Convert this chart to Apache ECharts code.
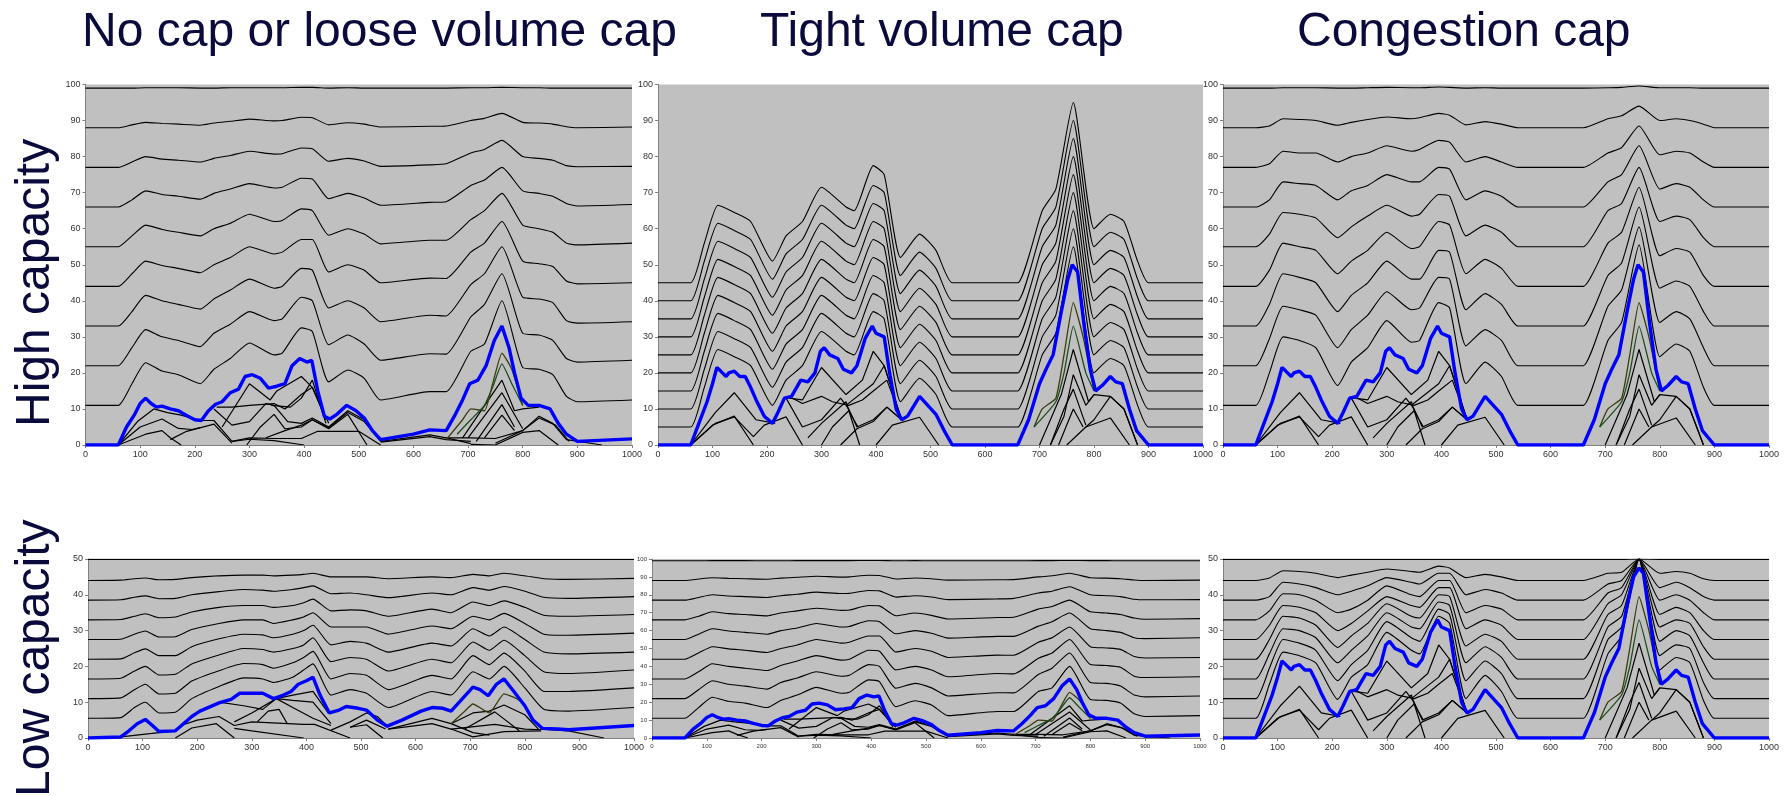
<!DOCTYPE html>
<html><head><meta charset="utf-8">
<script src="https://cdn.jsdelivr.net/npm/echarts@6/dist/echarts.min.js"></script>
<style>html,body{margin:0;padding:0;background:#fff}#c{width:1789px;height:797px}</style></head>
<body><div id="c"></div>
<script>
const titles = ["No cap or loose volume cap","Tight volume cap","Congestion cap"];
const rowLabels = ["High capacity","Low capacity"];
const xTicksMax = 1000;

const knots = [0,60,85,110,140,170,210,235,265,300,345,360,395,415,445,480,510,540,630,660,705,730,762,800,830,855,880,900,1000];
const knotsLow = [0,60,85,105,130,160,190,240,285,320,340,375,395,412,445,480,510,550,630,665,705,735,762,800,835,880,1000];

// Panel 1: no cap, high capacity
const p1Blue = [[0,0],[60,0],[75,5],[90,8.5],[100,11.5],[110,13],[120,11.5],[130,10.5],[140,10.8],[155,10],[170,9.5],[185,8.2],[200,7],[212,6.8],[225,9.5],[238,11.3],[250,12],[265,14.5],[280,15.5],[292,19],[305,19.5],[320,18.5],[335,15.8],[350,16.3],[365,17],[378,22],[392,24],[405,23],[414,23.5],[425,15],[437,8],[447,7.2],[460,8.5],[478,11],[495,9.5],[510,7.5],[525,4],[540,1.5],[600,3],[630,4.2],[660,4],[675,8],[690,12.5],[703,17],[718,18],[733,22],[748,29],[762,33],[775,27],[785,20],[797,13],[810,11],[830,11],[850,10],[865,6],[880,3],[900,1],[1000,1.7]];
const p1Upper = [
[11,11,17,22.8,20.5,19.5,17,21,24,28.3,25,25.5,32.5,31.5,17.5,20.8,18.5,12.5,14.8,14.8,26,28,40,21.5,21,19.5,13.5,12,12.5],
[22,22,27,32,30,29,27.3,31,33.5,37,34.5,35,41,40,27.8,30.5,28,23.5,25.3,25.2,35.5,39,47.5,31,30.5,29,24,23,23.5],
[33,33,37,41.5,40,39,37.7,40.5,43,46,43.5,44,49,48.5,38,40,38,34.2,36,35.8,44.5,47.5,55,41,40.5,39.5,34.5,33.8,34.2],
[44,44,47.5,51,49.8,49,47.8,50,52,55,53,53.5,57,57,48,50,48.5,45,46.3,46.2,53.5,56,62,51,50.3,49.5,45.5,44.7,45],
[55,55,58,61,59.8,59,58,60,61.5,64,62,62.3,65.5,65,58.2,60,58.5,55.8,56.8,56.8,62.5,65,69.8,61,60,59,56,55.5,56],
[66,66,68,70.5,69.5,69,68.2,69.8,71,72.5,71.3,71.5,74,73.8,68.3,69.8,68.5,66.5,67.3,67.5,72,73.5,77,70.5,69.8,69,67,66.3,66.7],
[77,77,78.5,80,79.3,79,78.5,79.5,80.3,81.5,80.7,80.8,82.4,82.2,78.7,79.5,78.8,77.3,77.7,78,81,82,84.5,80,79.5,79,77.5,77.2,77.3],
[88,88,88.8,89.5,89.2,89,88.7,89.3,89.8,90.4,89.9,90,90.9,90.8,88.8,89.4,89,88.2,88.4,88.5,90,90.6,92,89.5,89.3,89,88.3,88,88.2],
[99,99,99,99.1,99.1,99.1,99,99,99.1,99.1,99.1,99.1,99.2,99.2,99,99.1,99,99,99,99,99.1,99.1,99.2,99.1,99.1,99,99,99,99]
];
const p1Olive = [[660,1.5],[690,7],[705,10],[730,9.5],[745,17],[762,25.5],[780,21],[800,11]];
const p1Green = [[680,3],[705,7],[730,11],[745,16],[762,22.5],[780,17],[800,11]];
const p1Low = [
[[60,0],[110,3],[140,4],[155,2],[175,0]],
[[60,0],[100,5],[140,7.2],[170,4.6],[195,4.3],[210,4.8]],
[[60,0],[95,6.5],[125,10],[150,9],[175,8.3],[210,6.8],[235,6.8],[268,1]],
[[155,1.5],[185,3.8],[235,5.8],[268,0.5]],
[[235,10],[268,5.5],[300,6.5],[330,11.5],[345,11],[370,6.5],[395,6],[415,7.5],[445,5],[480,9.5],[510,7],[540,1.2]],
[[240,10.5],[268,10.5],[300,11],[345,11.5],[365,10],[395,14],[415,16],[445,6]],
[[250,5],[300,17],[338,12.5],[350,15],[395,19],[415,16],[440,7]],
[[340,11],[375,10.5],[395,13],[415,18],[440,6]],
[[268,1],[300,2],[345,1.8],[395,1.8],[425,3.8],[500,3.8],[540,0]],
[[268,1],[300,1.6],[345,1.2],[400,0]],
[[295,0],[320,5],[345,8.5],[365,4.5],[395,5],[415,7],[445,4.5],[480,8.5],[515,0]],
[[330,2],[365,4],[395,5.5],[415,7],[445,4.8],[480,9],[510,6.5],[540,1]],
[[540,1],[630,2.8],[660,2],[705,0.4]],
[[540,0.8],[630,2.3],[660,1.5],[705,1]],
[[660,2],[705,2],[750,1.8],[800,4],[830,8],[855,6],[880,1.5],[945,0]],
[[690,2],[762,18],[785,9.5],[800,10],[830,10.5]],
[[700,2],[762,14.5],[800,4.5]],
[[715,1],[762,11.2],[785,5]],
[[730,2],[762,8.3],[785,4]],
[[705,0.2],[750,0],[800,3.5],[830,4],[865,0]],
[[750,0.5],[800,4],[830,7.5],[860,5.5],[885,1]]
];

// Panel 2: tight volume cap, high capacity
const p2Blue = [[0,0],[60,0],[75,6],[90,12],[100,17],[108,21.5],[115,20.5],[125,19],[130,20],[140,20.5],[150,19],[160,19],[170,16],[180,12.5],[195,8],[210,6],[220,9],[232,13],[245,13.5],[262,18],[275,17.5],[288,20],[298,26],[305,27],[315,25],[330,24],[340,21],[355,20],[365,22],[380,29.5],[393,33],[400,31],[415,30],[425,20],[437,10],[447,7],[458,8],[480,13.5],[495,11],[510,8.5],[525,4],[540,0],[660,0],[680,7],[700,17],[712,21],[725,25],[740,37],[752,46],[760,50],[770,48],[782,33],[793,21],[803,15],[815,16.5],[830,19],[840,17.5],[852,17],[865,10],[878,4],[900,0],[1000,0]];
const p2Upper = [
[5,5,16,26.5,24.5,22,11,18,22,31.5,26,25,37,35,12,18.5,14,5,5,5,25,31,55,20,24,22,11,5,5],
[10,10,21,31.5,29.5,27,16,23,27,36.5,31,30,42,40,17,23.5,19,10,10,10,30,36,60,25,29,27,16,10,10],
[15,15,26,36.5,34.5,32,21,28,32,41.5,36,35,47,45,22,28.5,24,15,15,15,35,41,65,30,34,32,21,15,15],
[20,20,31,41.5,39.5,37,26,33,37,46.5,41,40,52,50,27,33.5,29,20,20,20,40,46,70,35,39,37,26,20,20],
[25,25,36,46.5,44.5,42,31,38,42,51.5,46,45,57,55,32,38.5,34,25,25,25,45,51,75,40,44,42,31,25,25],
[30,30,41,51.5,49.5,47,36,43,47,56.5,51,50,62,60,37,43.5,39,30,30,30,50,56,80,45,49,47,36,30,30],
[35,35,46,56.5,54.5,52,41,48,52,61.5,56,55,67,65,42,48.5,44,35,35,35,55,61,85,50,54,52,41,35,35],
[40,40,51,61.5,59.5,57,46,53,57,66.5,61,60,72,70,47,53.5,49,40,40,40,60,66,90,55,59,57,46,40,40],
[45,45,56,66.5,64.5,62,51,58,62,71.5,66,65,77.5,75,52,58.5,54,45,45,45,65,71,95,60,64,62,51,45,45]
];
const p2Olive = [[690,5],[705,10],[730,13],[745,25],[762,39.5],[780,30],[800,15]];
const p2Green = [[690,5],[730,12],[745,20],[762,33],[785,20],[800,15]];
const p2Low = [
[[60,0],[100,5.5],[140,8],[175,0]],
[[60,0],[105,6],[140,7.8],[175,2.3],[195,5.5],[235,7.8],[265,0]],
[[60,0],[105,9],[140,14.5],[180,7],[215,6]],
[[235,13],[265,5],[300,7],[335,13],[350,10],[365,5],[395,7],[420,10.5],[447,7]],
[[240,13.5],[265,11.5],[300,13.5],[320,12],[350,11],[375,12.5],[395,15],[420,18],[447,7]],
[[240,13],[265,12.5],[300,21.5],[345,14],[375,18],[395,26],[415,22],[447,7]],
[[345,11],[395,17],[415,22],[447,7]],
[[275,2],[300,6],[345,12],[370,0]],
[[300,0],[320,5],[350,9.5],[367,5]],
[[335,0],[365,4.5],[395,6.5],[420,10.5],[447,7]],
[[400,0],[430,5.5],[480,7.7],[515,0]],
[[700,0],[740,14],[762,26.5],[790,12],[800,14],[830,13.5],[855,10],[880,0]],
[[720,0],[745,8],[762,19.5],[785,11],[800,14]],
[[720,0],[745,10],[762,15.5],[785,5.5]],
[[735,0],[762,10],[780,5]],
[[750,0],[785,5],[830,7.5],[865,0]],
[[785,5],[800,7],[830,13.5],[855,10],[880,0]]
];

// Panel 3: congestion cap, high capacity
const p3Upper = [
[11,11,20,30,29,27,16.5,23,27,34.5,28.5,29,39.5,38,17,23,19,11,11,11,29,34,55.5,24.5,28,26,16,11,11],
[22,22,29.5,38.5,37.5,36,27,32,36,42.5,37.5,38,46.5,46,27.5,32,29,22,22,22,38.5,43,60.5,34,37,35,27,22,22],
[33,33,39,47.5,46.5,45,37,41.5,45,51,46,46,54,53.5,37.5,42,39,33,33,33,47,50.5,66,43.5,45.5,44,37,33,33],
[44,44,48.5,56,55,54,47.5,51,54,59,54.5,55,62,61,47.5,51.5,49,44,44,44,56,59,71.5,52.5,54.5,53.5,47,44,44],
[55,55,58.5,64.5,64,63,57.5,60.5,63.5,66.5,63.5,64,69.5,69,58,61,59,55,55,55,65,67,77,62,63.5,62.5,57.5,55,55],
[66,66,68,73,72.5,72,68,70.5,72,75,73,73,77,76.5,68,70.5,69,66,66,66,73,75,83,71,72.5,71.5,68,66,66],
[77,77,78,81.5,81,81,78.5,80,81,83,81.5,82,84.5,84,78.5,80,78.5,77,77,77,81,82.5,88.5,80.5,81.5,81,78.5,77,77],
[88,88,88.5,90.5,90.3,90,88.7,89.5,90.3,91,90.5,90.8,92,91.5,88.8,89.7,89,88,88,88,90.5,91.3,94,90,90.5,90,89,88,88],
[99,99,99,99.1,99.1,99.1,99,99,99.1,99.2,99.1,99.1,99.3,99.2,99,99.1,99,99,99,99,99.1,99.2,99.6,99.1,99.1,99.1,99,99,99]
];

// Panel 4: no cap, low capacity
const p4Blue = [[0,0],[60,0.3],[75,2],[90,4],[105,5.2],[118,3.5],[130,1.8],[160,2],[175,4],[190,6],[205,7.5],[240,9.8],[262,10.8],[278,12.5],[300,12.5],[320,12.5],[340,11],[358,12],[372,13],[385,15],[400,16],[412,17],[425,12],[442,7],[460,7.8],[473,8.8],[495,8.3],[510,7.8],[530,5],[548,3.3],[575,5],[610,7.5],[630,8.5],[650,8.3],[665,7.5],[680,10],[705,14.2],[718,13.5],[733,11.8],[748,15],[762,16.5],[780,13],[800,9],[815,5],[832,2.7],[860,2.5],[880,2.3],[1000,3.5]];
const p4Upper = [
[5.5,5.7,8.5,10,7,7.2,11,14.4,16.8,16.5,15.5,17,19,20.7,12,13.5,12.5,8.5,13,12,18.5,16.5,20,14,8,7.5,8.5],
[11,11.2,13.5,15,12.3,12.5,15.9,18.8,20.8,20.5,19.5,21,22.5,24.2,16.5,18,17.5,13.5,17.5,16.5,23,20.5,23.7,18.7,13,13,14],
[16.5,16.7,18.7,20,17.6,17.8,20.7,23.2,25,24.7,24,25,26,28,21.3,22.5,22,18.7,22,21,26.8,24.5,27.3,23,18.5,18,19],
[22,22.1,23.8,24.9,23,23,25.5,27.7,29,28.8,28,29,30,31.5,26,27,26.5,24,26.5,25.7,30.5,28.5,31,27.5,24,23.5,24],
[27.5,27.6,29,29.9,28.2,28.3,30.3,32,33,33,32,33,33.8,35,31,31,31,29,31.3,30.5,34,33,34.8,32,29,28.7,29.3],
[33,33.1,34,34.7,33.6,33.8,35.2,36.5,37,37,36.5,37,37.8,38.8,35.5,35.8,35.5,34,36,35,38,37,38.3,36.5,34.3,34,34.5],
[38.5,38.6,39.3,39.7,38.9,39,40,40.9,41.5,41.3,41,41.5,42,42.5,40.3,40.5,40,39.2,40.5,40,42,41.3,42.3,41,39.3,39,39.5],
[44,44.1,44.5,44.7,44.2,44.3,44.8,45.3,45.5,45.5,45.3,45.5,45.7,46,45,45,45,44.5,45,44.8,45.7,45.3,46,45.3,44.5,44.3,44.6],
[49.9,49.9,49.9,49.9,49.9,49.9,49.9,49.9,49.9,49.9,49.9,49.9,49.9,49.9,49.9,49.9,49.9,49.9,49.9,49.9,49.9,49.9,49.9,49.9,49.9,49.9,49.9]
];
const p4Olive = [[665,4],[690,7.5],[705,9.5],[735,7],[762,12.3],[785,11],[800,9.5]];
const p4Low = [
[[60,0.3],[130,1.5],[160,2]],
[[160,0],[190,2.8],[235,4],[268,0]],
[[170,3.5],[200,5],[240,6],[268,3.5],[300,4.5],[395,3.8],[415,3.8],[480,0]],
[[268,2.7],[300,2],[395,0]],
[[240,10],[285,9],[320,8],[345,11],[375,8.5],[412,5.5],[445,3.5]],
[[268,4.5],[300,7],[345,11],[375,10.5],[412,10],[445,4]],
[[345,11],[375,12],[412,13],[440,7]],
[[310,4.5],[330,7.5],[350,8],[365,4]],
[[445,2.2],[480,4.5],[510,7],[530,6],[550,3]],
[[480,3],[510,5],[545,2.5]],
[[480,3],[510,3.7],[540,0]],
[[550,2.5],[630,5.5],[665,4],[705,1.5],[735,0.8]],
[[550,2.5],[630,4],[665,2.5],[705,0.3],[762,1.8],[830,2]],
[[665,4],[705,7],[735,7.5],[762,9.2],[800,6.5],[825,2.5]],
[[690,2.5],[745,7.3],[790,2]],
[[665,2.5],[745,3.8],[800,2.5],[830,2.3]],
[[830,2.5],[880,2],[945,0]]
];

// Panel 6: congestion cap, low capacity
const p6Blue = [[0,0],[60,0],[75,6],[90,12],[100,17],[108,21.5],[115,20.5],[125,19],[130,20],[140,20.5],[150,19],[160,19],[170,16],[180,12.5],[195,8],[210,6],[220,9],[232,13],[245,13.5],[262,18],[275,17.5],[288,20],[298,26],[305,27],[315,25],[330,24],[340,21],[355,20],[365,22],[380,29.5],[393,33],[400,31],[415,30],[425,20],[437,10],[447,7],[458,8],[480,13.5],[495,11],[510,8.5],[525,4],[540,0],[660,0],[680,7],[700,17],[712,21],[725,25],[740,37],[752,45],[762,47.5],[770,46],[782,33],[793,21],[803,15],[815,16.5],[830,19],[840,17.5],[852,17],[865,10],[878,4],[900,0],[1000,0]];
const p6Upper = [
[5.5,5.5,15,24,23,21,10.8,17,20.5,29.5,24.5,23.5,34,32,11,17.5,13,5.5,5.5,5.5,23.5,28.5,50,19,22.5,21,10.5,5.5,5.5],
[11,11,19.5,27.5,26.5,24.5,16,20.5,24.5,32.5,28,27,36,34.5,16,21.5,18,11,11,11,27.5,31,50,23,26,25,15.5,11,11],
[16.5,16.5,23.5,30.5,30,28,21,24.5,28.5,35,31,30.5,38,37,21,25.5,22.5,16.5,16.5,16.5,31,34,50,27,30,28.5,21,16.5,16.5],
[22,22,27.5,34,33.5,31.5,25.3,28.5,32,37.5,34,33.5,40,39.5,25.7,29,27,22,22,22,34.5,37,50,31,33,32,25.5,22,22],
[27.5,27.5,31.5,37,36.5,35,30,32,35.5,39.5,37,36.5,42,42,30.5,33,31.5,27.5,27.5,27.5,37.5,40,50,34.5,36.5,35,30,27.5,27.5],
[33,33,35.5,40.3,40,38.5,35,36,38.5,42.5,40,39.5,44,44,35,37,36,33,33,33,40.5,42,50,38.5,40,38.5,35,33,33],
[38.5,38.5,39.5,43.5,43,42,40,41,42.5,44.8,43.5,43,46,46,40,41.5,40.5,38.5,38.5,38.5,43,44,50,42,43.5,42,39.5,38.5,38.5],
[44,44,44.7,46.7,46.5,46,44.8,45.5,46.3,47.2,46.5,46.3,48,47.5,44.8,45.7,45,44,44,44,46,46.3,50,46,46.5,46,44.5,44,44],
[49.9,49.9,49.9,49.9,49.9,49.9,49.9,49.9,49.9,49.9,49.9,49.9,49.9,49.9,49.9,49.9,49.9,49.9,49.9,49.9,49.9,49.9,50,49.9,49.9,49.9,49.9,49.9,49.9]
];

const panels = [
 {g:[85.5,84.5,546.5,360.5], yMax:100, fs:9, k:knots, blue:p1Blue, up:p1Upper, low:p1Low, olive:p1Olive, green:p1Green},
 {g:[658,84.5,545,360.5], yMax:100, fs:9, k:knots, blue:p2Blue, up:p2Upper, low:p2Low, olive:p2Olive, green:p2Green},
 {g:[1223,84.5,546,360.5], yMax:100, fs:9, k:knots, blue:p2Blue, up:p3Upper, low:p2Low, olive:p2Olive, green:p2Green},
 {g:[88,559,546,179], yMax:50, fs:9, k:knotsLow, blue:p4Blue, up:p4Upper, low:p4Low, olive:p4Olive, green:null},
 {g:[652,559,548,179], yMax:100, fs:6, k:knots, blue:p1Blue, up:p1Upper, low:p1Low, olive:p1Olive, green:p1Green},
 {g:[1223,559,546,179], yMax:50, fs:9, k:knots, blue:p6Blue, up:p6Upper, low:p2Low, olive:p2Olive, green:p2Green}
];

const grid=[],xAxis=[],yAxis=[],series=[];
const line=(i,data,color,width,z,smooth)=>series.push({type:'line',xAxisIndex:i,yAxisIndex:i,data,symbol:'none',silent:true,animation:false,z:z||2,clip:true,smooth:smooth||false,lineStyle:{color,width}});
panels.forEach((p,i)=>{
  grid.push({left:p.g[0],top:p.g[1],width:p.g[2],height:p.g[3],backgroundColor:'#c0c0c0',show:true,borderWidth:0});
  const ax={color:'#333',fontFamily:'Liberation Sans',fontSize:p.fs,margin:5};
  xAxis.push({type:'value',gridIndex:i,min:0,max:xTicksMax,interval:100,splitLine:{show:false},axisLine:{onZero:false,lineStyle:{color:'#808080'}},axisTick:{length:3,lineStyle:{color:'#808080'}},axisLabel:{...ax,formatter:v=>String(v),hideOverlap:false,showMinLabel:true,showMaxLabel:true}});
  yAxis.push({type:'value',gridIndex:i,min:0,max:p.yMax,interval:10,splitLine:{show:false},axisLine:{show:true,lineStyle:{color:'#808080'}},axisTick:{show:true,length:3,lineStyle:{color:'#808080'}},axisLabel:{...ax,showMinLabel:true,showMaxLabel:true}});
  p.low.forEach(l=>line(i,l,'#000',1.2));
  if(p.olive) line(i,p.olive,'#3b3b10',1.3,3,0.15);
  if(p.green) line(i,p.green,'#1d4d1d',1.3,3,0.15);
  p.up.forEach(u=>line(i,u.map((v,j)=>[p.k[j],v]),'#000',1.1,3,0.18));
  line(i,p.blue,'#0000ff',3.4,4);
});
const tStyle=(text,fs)=>({text,fontFamily:'Liberation Sans',fontSize:fs,fill:'#0a0a3c'});
const graphic=[
 {type:'text',left:82,top:9,style:tStyle(titles[0],48)},
 {type:'text',left:760,top:9,style:tStyle(titles[1],48)},
 {type:'text',left:1297,top:9,style:tStyle(titles[2],48)},
 {type:'text',x:12,y:427,rotation:Math.PI/2,style:tStyle(rowLabels[0],48)},
 {type:'text',x:12,y:797,rotation:Math.PI/2,style:tStyle(rowLabels[1],48)}
];
const chart=echarts.init(document.getElementById('c'),null,{renderer:'canvas'});
chart.setOption({animation:false,backgroundColor:'#fff',grid,xAxis,yAxis,series,graphic});
</script></body></html>
